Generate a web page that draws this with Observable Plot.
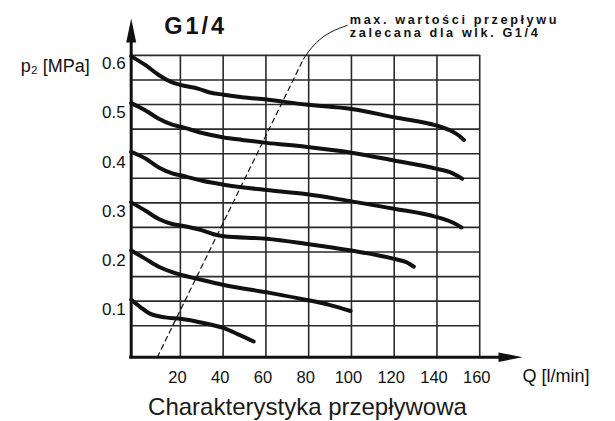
<!DOCTYPE html>
<html><head><meta charset="utf-8">
<script src="https://cdn.jsdelivr.net/npm/d3@7"></script>
<script src="https://cdn.jsdelivr.net/npm/@observablehq/plot@0.6"></script>
<style>
html,body{margin:0;padding:0;background:#fff;}
body{font-family:"Liberation Sans",Arial,sans-serif;}
#caption{width:615px;text-align:center;font-size:24px;color:#1a1a1a;line-height:normal;}
</style></head><body>
<div id="chart"></div>
<div id="caption">Charakterystyka przepływowa</div>
<script>
// axis / tick data
const xTicks = [20, 40, 60, 80, 100, 120, 140, 160];
const yTicks = [0.1, 0.2, 0.3, 0.4, 0.5, 0.6];
const yGrid = [0.05, 0.1, 0.15, 0.2, 0.25, 0.3, 0.35, 0.4, 0.45, 0.5, 0.55, 0.6];
const xMin = -3, xMax = 160, xTip = 180;
const yMin = -0.014, yMax = 0.6, yTip = 0.675;

// curve data: Q [l/min] and p2 [MPa]
const seriesNames = ["0.6", "0.5", "0.4", "0.3", "0.2", "0.1"];
const q06 = [-3, 3.7, 9.9, 16.2, 20, 28.6, 33.3, 40.3, 48.9, 60.3, 78.5, 100, 120, 140, 146.3, 150.2, 152.6];
const p06 = [0.598, 0.580, 0.560, 0.545, 0.540, 0.532, 0.525, 0.520, 0.515, 0.510, 0.500, 0.491, 0.474, 0.457, 0.447, 0.437, 0.428];
const q05 = [-3, 3.7, 9.9, 16.2, 20, 30.2, 40.3, 48.9, 60.3, 78.5, 100, 120, 140, 146.3, 151.8];
const p05 = [0.503, 0.488, 0.471, 0.459, 0.455, 0.442, 0.433, 0.428, 0.422, 0.414, 0.402, 0.386, 0.369, 0.362, 0.349];
const q04 = [-3, 3.7, 9.9, 16.2, 20, 30.2, 40.3, 60.3, 78.5, 100, 120, 140, 146.3, 151.5];
const p04 = [0.404, 0.390, 0.372, 0.360, 0.356, 0.345, 0.337, 0.326, 0.318, 0.303, 0.288, 0.271, 0.262, 0.250];
const q03 = [-3, 3.7, 9.9, 16.2, 20, 30.2, 35.6, 40.3, 60.3, 78.5, 100, 120, 125.8, 129.2];
const p03 = [0.301, 0.284, 0.267, 0.257, 0.254, 0.244, 0.236, 0.232, 0.227, 0.217, 0.203, 0.186, 0.179, 0.170];
const q02 = [-3, 3.7, 9.9, 16.2, 20, 30.2, 40.3, 60.3, 78.5, 90, 99.6];
const p02 = [0.203, 0.186, 0.170, 0.159, 0.154, 0.143, 0.133, 0.118, 0.103, 0.092, 0.080];
const q01 = [-3, 1.3, 6, 13, 20, 30.2, 40.3, 47.3, 54.3];
const p01 = [0.103, 0.088, 0.074, 0.067, 0.064, 0.056, 0.045, 0.032, 0.018];

// max recommended flow line (dashed) and its leader to the note
const limitQ = [9.2, 77.5];
const limitP = [-0.014, 0.592];
const leaderQ = [77.5, 79, 98];
const leaderP = [0.592, 0.602, 0.661];

const titleText = "G1/4";
const noteLines = ["max. wartości przepływu", "zalecana dla wlk. G1/4"];
const yLabel = "p\u2082 [MPa]";
const xLabel = "Q [l/min]";

const Qs = [q06, q05, q04, q03, q02, q01];
const Ps = [p06, p05, p04, p03, p02, p01];
const curveRows = seriesNames.flatMap((s, i) => Qs[i].map((q, j) => ({series: s, q, p: Ps[i][j]})));
const limitRows = limitQ.map((q, i) => ({q, p: limitP[i]}));
const leaderRows = leaderQ.map((q, i) => ({q, p: leaderP[i]}));

const arrowUp = {draw(ctx) { ctx.moveTo(0, 0); ctx.lineTo(5, 24); ctx.lineTo(-5, 24); ctx.closePath(); }};
const arrowRight = {draw(ctx) { ctx.moveTo(0, 0); ctx.lineTo(-24, -4.7); ctx.lineTo(-24, 4.7); ctx.closePath(); }};

const ink = "#111";
const plot = Plot.plot({
  width: 615, height: 393,
  marginLeft: 130.7, marginRight: 93, marginTop: 18, marginBottom: 36.3,
  x: {domain: [xMin, xTip], axis: null},
  y: {domain: [yMin, yTip], axis: null},
  style: {fontFamily: "'Liberation Sans', Arial, sans-serif", color: ink, background: "#fff"},
  marks: [
    Plot.ruleY(yGrid, {x1: xMin, x2: xMax, stroke: "#2a2a2a", strokeWidth: 1.6}),
    Plot.ruleX(xTicks, {y1: yMin, y2: yMax, stroke: "#2a2a2a", strokeWidth: 1.6}),
    Plot.line(limitRows, {x: "q", y: "p", stroke: ink, strokeWidth: 1.2, strokeDasharray: "5,4"}),
    Plot.line(leaderRows, {x: "q", y: "p", stroke: ink, strokeWidth: 1, curve: "monotone-x"}),
    Plot.line(curveRows, {x: "q", y: "p", z: "series", stroke: ink, strokeWidth: 4, curve: "monotone-x", strokeLinecap: "round", strokeLinejoin: "round"}),
    Plot.ruleX([xMin], {y1: yMin, y2: yTip - 0.02, stroke: ink, strokeWidth: 3, strokeLinecap: "square"}),
    Plot.ruleY([yMin], {x1: xMin, x2: xTip - 5, stroke: ink, strokeWidth: 3, strokeLinecap: "square"}),
    Plot.dot([0], {x: () => xMin, y: () => yTip, symbol: arrowUp, fill: ink, stroke: "none"}),
    Plot.dot([0], {x: () => xTip, y: () => yMin, symbol: arrowRight, fill: ink, stroke: "none"}),
    Plot.text(yTicks, {x: () => xMin, y: d => d, text: d => d.toFixed(1), textAnchor: "end", dx: -5.5, dy: 8.5, fontSize: 17, fill: ink}),
    Plot.text(xTicks, {x: d => d, y: () => yMin, text: d => String(d), dx: -3, dy: 20.5, fontSize: 16.5, fill: ink}),
    Plot.text([xLabel], {x: () => xTip, y: () => yMin, text: d => d, textAnchor: "start", lineAnchor: "bottom", dx: 0, dy: 25, fontSize: 18, fill: ink}),
    Plot.text([yLabel], {x: () => xMin, y: () => yMax, text: d => d, textAnchor: "end", lineAnchor: "bottom", dx: -41.5, dy: 16.8, fontSize: 18, fill: ink}),
    Plot.text([titleText], {frameAnchor: "top-left", text: d => d, textAnchor: "middle", lineAnchor: "bottom", dx: 64.5, dy: 15.3, fontSize: 23.5, fontWeight: "bold", fill: ink}),
    Plot.text([noteLines[0]], {frameAnchor: "top-left", text: d => d, textAnchor: "start", lineAnchor: "bottom", dx: 218.6, dy: 5.3, fontSize: 12.7, fontWeight: "bold", fill: ink}),
    Plot.text([noteLines[1]], {frameAnchor: "top-left", text: d => d, textAnchor: "start", lineAnchor: "bottom", dx: 218.6, dy: 18, fontSize: 12.7, fontWeight: "bold", fill: ink})
  ]
});
for (const t of plot.querySelectorAll("text")) {
  const s = t.textContent;
  if (noteLines.includes(s)) t.style.letterSpacing = "2.6px";
  else if (s === titleText) t.style.letterSpacing = "3px";
}
document.getElementById("chart").appendChild(plot);
</script>
</body></html>
